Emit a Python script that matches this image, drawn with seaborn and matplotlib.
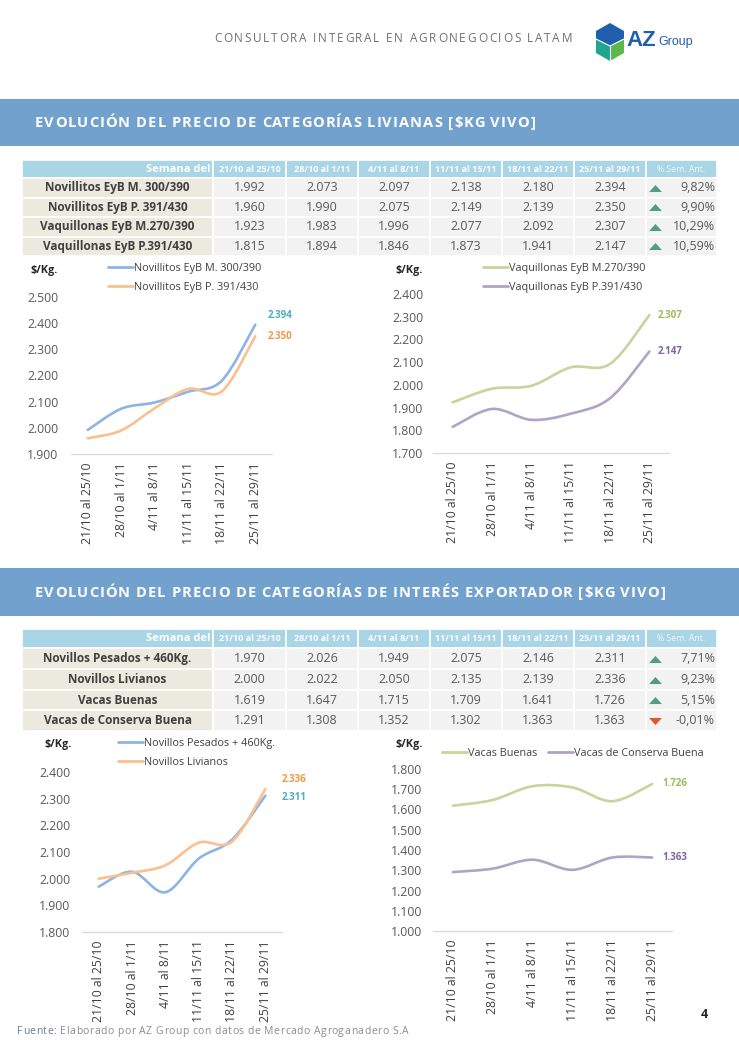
import numpy as np
import pandas as pd
import matplotlib
matplotlib.use("Agg")
import matplotlib.pyplot as plt
import seaborn as sns
from matplotlib.patches import Rectangle, Polygon, PathPatch
from matplotlib.path import Path
from matplotlib.lines import Line2D
from matplotlib.font_manager import FontProperties
from matplotlib.ticker import FuncFormatter

# ---------------- DATA ----------------
weeks = ["21/10 al 25/10", "28/10 al 1/11", "4/11 al 8/11",
         "11/11 al 15/11", "18/11 al 22/11", "25/11 al 29/11"]

liv_names = ["Novillitos EyB M. 300/390", "Novillitos EyB P. 391/430",
             "Vaquillonas EyB M.270/390", "Vaquillonas EyB P.391/430"]
nov_m = [1992, 2073, 2097, 2138, 2180, 2394]
nov_p = [1960, 1990, 2075, 2149, 2139, 2350]
vaq_m = [1923, 1983, 1996, 2077, 2092, 2307]
vaq_p = [1815, 1894, 1846, 1873, 1941, 2147]
liv_pct = [9.82, 9.90, 10.29, 10.59]

exp_names = ["Novillos Pesados + 460Kg.", "Novillos Livianos",
             "Vacas Buenas", "Vacas de Conserva Buena"]
nov_pes = [1970, 2026, 1949, 2075, 2146, 2311]
nov_liv = [2000, 2022, 2050, 2135, 2139, 2336]
vac_bue = [1619, 1647, 1715, 1709, 1641, 1726]
vac_con = [1291, 1308, 1352, 1302, 1363, 1363]
exp_pct = [7.71, 9.23, 5.15, -0.01]

header_txt = "CONSULTORA INTEGRAL EN AGRONEGOCIOS LATAM"
title1 = "EVOLUCIÓN DEL PRECIO DE CATEGORÍAS LIVIANAS [$KG VIVO]"
title2 = "EVOLUCIÓN DEL PRECIO DE CATEGORÍAS DE INTERÉS EXPORTADOR [$KG VIVO]"
footer_txt = "Fuente: Elaborado por AZ Group con datos de Mercado Agroganadero S.A"

# ---------------- STYLE ----------------
sns.set_theme(style="white")
plt.rcParams["font.family"] = ["Open Sans", "DejaVu Sans"]
plt.rcParams["text.parse_math"] = False

BLUE, ORANGE, GREEN, PURPLE = "#8eb4e3", "#fac090", "#c3d69b", "#b3a2c7"
LBL_BLUE, LBL_ORANGE, LBL_GREEN, LBL_PURPLE = "#4bacc6", "#f79646", "#9bbb59", "#8064a2"
BAND = "#72a1ce"
HDR = "#a9d5e6"
LABC = "#ecE9de"
CELL = "#f2f2f2"
TXT = "#595959"

W, H = 739, 1046
fig = plt.figure(figsize=(W / 100, H / 100), dpi=100)
fig.patch.set_facecolor("white")
bg = fig.add_axes([0, 0, 1, 1], zorder=0)
bg.set_xlim(0, W)
bg.set_ylim(H, 0)
bg.axis("off")
renderer = fig.canvas.get_renderer()


def fmt_num(v):
    return f"{int(round(v)):,}".replace(",", ".")


def text_w(s, prop):
    w, h, d = renderer.get_text_width_height_descent(s, prop, ismath=False)
    return w


def spaced_text(x0, x1, y, s, prop, colors):
    n = len(s)
    sp = (x1 - x0 - text_w(s, prop)) / (n - 1)
    for i, ch in enumerate(s):
        if ch == " ":
            continue
        xi = text_w(s[:i + 1], prop) - text_w(ch, prop)
        c = colors[i] if isinstance(colors, list) else colors
        bg.text(x0 + xi + i * sp, y, ch, fontproperties=prop, color=c,
                ha="left", va="baseline")


# ---------------- HEADER ----------------
spaced_text(214, 572, 42, header_txt,
            FontProperties(family="Open Sans", size=8.5), "#6f6f6f")

# logo
bg.add_patch(Polygon([(610, 23), (624, 31), (624, 39), (610, 46), (596, 39), (596, 31)],
                     closed=True, facecolor="#1f5fae", edgecolor="none"))
bg.add_patch(Polygon([(596, 39), (610, 46), (610, 61), (596, 53)],
                     closed=True, facecolor="#22a58f", edgecolor="none"))
bg.add_patch(Polygon([(610, 46), (624, 39), (624, 53), (610, 61)],
                     closed=True, facecolor="#5db84c", edgecolor="none"))
bg.plot([596, 610, 624], [39, 46, 39], color="white", lw=0.8)
bg.plot([610, 610], [46, 61], color="white", lw=0.8)
bg.text(626, 41, "AZ", family="Liberation Sans", weight="bold", size=16,
        color="#1f5fae", ha="left", va="center")
bg.text(658, 42.5, "Group", family="Liberation Sans", size=9,
        color="#1f5fae", ha="left", va="center")

# bands
title_prop = FontProperties(family="Open Sans", weight="bold", size=10.5)
bg.add_patch(Rectangle((0, 99), W, 47, facecolor=BAND, edgecolor="none"))
spaced_text(35, 535, 127, title1, title_prop, "white")
bg.add_patch(Rectangle((0, 568), W, 48, facecolor=BAND, edgecolor="none"))
spaced_text(35, 665, 597, title2, title_prop, "white")


# ---------------- TABLES ----------------
col_edges = [22, 213, 286, 358, 430, 502, 574, 646, 717]


def draw_table(row_edges, names, rows, pcts):
    for j in range(len(col_edges) - 1):
        for i in range(len(row_edges) - 1):
            if i == 0:
                fc = HDR
            elif j == 0:
                fc = LABC
            else:
                fc = CELL
            bg.add_patch(Rectangle((col_edges[j], row_edges[i]),
                                   col_edges[j + 1] - col_edges[j],
                                   row_edges[i + 1] - row_edges[i],
                                   facecolor=fc, edgecolor="white", lw=1.2))
    yc = [(row_edges[i] + row_edges[i + 1]) / 2 for i in range(len(row_edges) - 1)]
    bg.text(col_edges[1] - 3, yc[0], "Semana del", color="white", weight="bold",
            size=8, ha="right", va="center")
    for j, wk in enumerate(weeks):
        xc = (col_edges[j + 1] + col_edges[j + 2]) / 2
        bg.text(xc, yc[0], wk, color="white", weight="bold", size=6.5,
                ha="center", va="center")
    bg.text((col_edges[7] + col_edges[8]) / 2, yc[0], "% Sem. Ant.", color="#eef7fa",
            size=6.3, ha="center", va="center")
    for i, (nm, vals, p) in enumerate(zip(names, rows, pcts)):
        y = yc[i + 1]
        bg.text((col_edges[0] + col_edges[1]) / 2, y, nm, color="#404040",
                weight="bold", size=8.5, ha="center", va="center")
        for j, v in enumerate(vals):
            xc = (col_edges[j + 1] + col_edges[j + 2]) / 2
            bg.text(xc, y, fmt_num(v), color=TXT, size=9, ha="center", va="center")
        up = p >= 0
        tri = [(-1, -0.55), (1, -0.55), (0, 0.55)] if up else [(-1, 0.55), (1, 0.55), (0, -0.55)]
        bg.scatter([col_edges[7] + 8.5], [y], marker=tri, s=85,
                   color="#529d87" if up else "#e0562b", linewidths=0)
        bg.text(col_edges[8] - 2, y, f"{p:.2f}".replace(".", ",") + "%", color=TXT,
                size=9, ha="right", va="center")


draw_table([160, 178, 197.5, 217, 236.5, 256], liv_names,
           [nov_m, nov_p, vaq_m, vaq_p], liv_pct)
draw_table([629, 648, 669, 690, 710, 731], exp_names,
           [nov_pes, nov_liv, vac_bue, vac_con], exp_pct)


# ---------------- CHARTS ----------------
def smooth_path(x, y):
    x = np.asarray(x, float)
    y = np.asarray(y, float)
    n = len(x)
    verts = [(x[0], y[0])]
    codes = [Path.MOVETO]
    for i in range(n - 1):
        p0 = np.array([x[max(i - 1, 0)], y[max(i - 1, 0)]])
        p1 = np.array([x[i], y[i]])
        p2 = np.array([x[i + 1], y[i + 1]])
        p3 = np.array([x[min(i + 2, n - 1)], y[min(i + 2, n - 1)]])
        c1 = p1 + (p2 - p0) / 6
        c2 = p2 - (p3 - p1) / 6
        verts += [tuple(c1), tuple(c2), tuple(p2)]
        codes += [Path.CURVE4] * 3
    return Path(verts, codes)


def draw_chart(left, right, top, bottom, names, series, colors, lblcolors, offsets,
               ylim, ypad, unit_xy, leg_xy, ncol=1):
    ax = fig.add_axes([left / W, 1 - bottom / H, (right - left) / W, (bottom - top) / H],
                      zorder=2)
    ax.patch.set_alpha(0)
    df = pd.DataFrame({
        "pos": np.tile(np.arange(len(weeks)), len(names)),
        "precio": np.concatenate([np.asarray(s, float) for s in series]),
        "serie": np.repeat(names, len(weeks)),
    })
    sns.lineplot(data=df, x="pos", y="precio", hue="serie", hue_order=names,
                 palette=colors, ax=ax, legend=False, errorbar=None, linewidth=1.8)
    for line, c in zip(ax.lines, colors):
        xy = line.get_xydata()
        ax.add_patch(PathPatch(smooth_path(xy[:, 0], xy[:, 1]), facecolor="none",
                               edgecolor=c, lw=1.9, capstyle="round"))
        line.set_visible(False)
    for s, lc, off in zip(series, lblcolors, offsets):
        ax.annotate(fmt_num(s[-1]), xy=(len(s) - 1, s[-1]), xytext=off,
                    textcoords="offset pixels", color=lc, weight="bold", size=7,
                    ha="left", va="center", annotation_clip=False)
    ax.set_xlim(-0.5, len(weeks) - 0.5)
    ax.set_xticks(np.arange(len(weeks)))
    ax.set_xticklabels(weeks, rotation=90, size=8.8, color="#404040")
    ax.set_ylim(*ylim)
    ax.set_yticks(np.arange(ylim[0], ylim[1] + 1, 100))
    ax.yaxis.set_major_formatter(FuncFormatter(lambda v, _: fmt_num(v)))
    ax.tick_params(axis="y", length=0, labelsize=8.8, labelcolor=TXT, pad=ypad)
    ax.tick_params(axis="x", length=0, pad=6)
    ax.set_xlabel("")
    ax.set_ylabel("")
    for sp in ["left", "top", "right"]:
        ax.spines[sp].set_visible(False)
    ax.spines["bottom"].set_color("#d9d9d9")
    ax.spines["bottom"].set_linewidth(0.9)
    ax.grid(False)
    bg.text(unit_xy[0], unit_xy[1], "$/Kg.", weight="bold", size=7.8,
            color="#262626", ha="right", va="center")
    handles = [Line2D([0], [0], color=c, lw=2) for c in colors]
    ax.legend(handles, names, loc="center left",
              bbox_to_anchor=(leg_xy[0] / W, 1 - leg_xy[1] / H),
              bbox_transform=fig.transFigure, frameon=False, fontsize=7.8,
              labelcolor="#404040", handlelength=2.3, handletextpad=0.1,
              borderpad=0, borderaxespad=0, labelspacing=0.7, ncol=ncol,
              columnspacing=1.0)
    return ax


draw_chart(71, 272, 297, 454, liv_names[:2], [nov_m, nov_p], [BLUE, ORANGE],
           [LBL_BLUE, LBL_ORANGE], [(12, 9), (12, 0)], (1900, 2500), 9,
           (58, 270), (108, 278))
draw_chart(433, 669, 294, 453, liv_names[2:], [vaq_m, vaq_p], [GREEN, PURPLE],
           [LBL_GREEN, LBL_PURPLE], [(8, 0), (8, 0)], (1700, 2400), 7,
           (423, 270), (483, 278))
draw_chart(82, 282, 772, 932, exp_names[:2], [nov_pes, nov_liv], [BLUE, ORANGE],
           [LBL_BLUE, LBL_ORANGE], [(16, -2), (16, 10)], (1800, 2400), 8.5,
           (72, 745), (118, 753))
draw_chart(433, 672, 769, 931, exp_names[2:], [vac_bue, vac_con], [GREEN, PURPLE],
           [LBL_GREEN, LBL_PURPLE], [(10, 0), (10, 0)], (1000, 1800), 8,
           (423, 745), (442, 753), ncol=2)

# ---------------- FOOTER ----------------
fprop = FontProperties(family="Open Sans", size=7.5)
fcolors = ["#60809f"] * 7 + ["#8c8c8c"] * (len(footer_txt) - 7)
spaced_text(17, 408, 1034, footer_txt, fprop, fcolors)
bg.text(704, 1014, "4", weight="bold", size=9, color="#262626", ha="center", va="center")

fig.savefig("out.png", dpi=100)
